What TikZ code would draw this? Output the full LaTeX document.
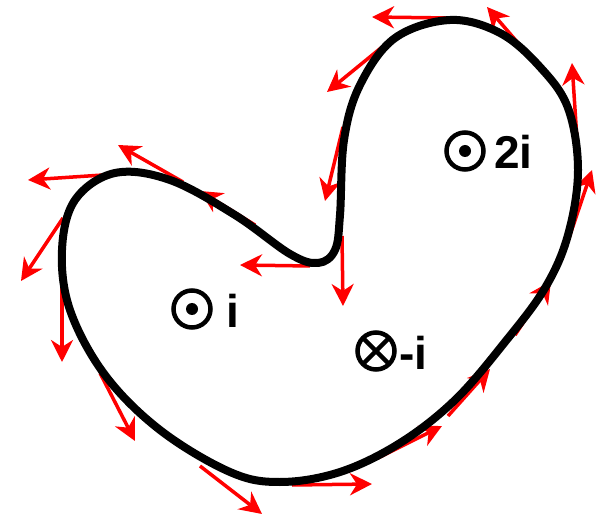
\documentclass[tikz,border=0pt]{standalone}
\usepackage{fontspec}
\setmainfont{Liberation Sans}
\usetikzlibrary{arrows.meta}
\tikzset{
  vec/.style={draw=red, line width=3.5pt, -{Stealth[length=22pt,width=22pt,inset=7pt]}},
  outline/.style={line width=8pt, line join=round},
  lbl/.style={font=\fontsize{46}{46}\selectfont\bfseries, inner sep=0pt, anchor=base west},
  ring/.style={line width=4.5pt}
}
\begin{document}
\begin{tikzpicture}[x=1pt,y=-1pt]
\useasboundingbox[fill=white] (0,0) rectangle (602,518);
% tangent vectors
\draw[vec] (450,18) -- (372,17);
\draw[vec] (537,65) -- (487,7);
\draw[vec] (577,140) -- (572,63);
\draw[vec] (568,241) -- (592,170);
\draw[vec] (515,335) -- (551,281);
\draw[vec] (448,416) -- (490,369);
\draw[vec] (378,458) -- (442,426);
\draw[vec] (292,485) -- (372,484);
\draw[vec] (200,466) -- (262,514);
\draw[vec] (100,373) -- (135,441);
\draw[vec] (62,283) -- (62,362);
\draw[vec] (63,218) -- (21,281);
\draw[vec] (103,175) -- (28,180);
\draw[vec] (183,182) -- (118,145);
\draw[vec] (255,225) -- (200,191);
\draw[vec] (310,266) -- (240,265);
\draw[vec] (342,236) -- (343,306);
\draw[vec] (343,127) -- (325,201);
\draw[vec] (387,43) -- (327,92);
% boundary curve
\draw[outline] plot[smooth cycle, tension=0.6] coordinates {
 (450,20) (395,38) (360,85) (344,140) (340,215) (335,250) (318,263)
 (290,254) (235,215) (170,180) (115,173) (75,200) (62,250) (70,310)
 (105,375) (160,430) (230,472) (280,482) (340,472) (400,443) (455,400)
 (505,342) (545,288) (568,235) (578,170) (568,108) (540,67) (500,33)};
% labels
\draw[ring] (192,309) circle (18.5);
\fill (192,309) circle (6);
\node[lbl] (li) at (226,327) {i};
\draw[ring] (376,351) circle (18.5);
\draw[ring] (376,351) ++(-13,-13) -- ++(26,26);
\draw[ring] (376,351) ++(13,-13) -- ++(-26,26);
\node[lbl] (lmi) at (399,370) {-i};
\draw[ring] (465,151) circle (18.5);
\fill (465,151) circle (6);
\node[lbl] (l2i) at (494,169) {2i};
\end{tikzpicture}
\end{document}
